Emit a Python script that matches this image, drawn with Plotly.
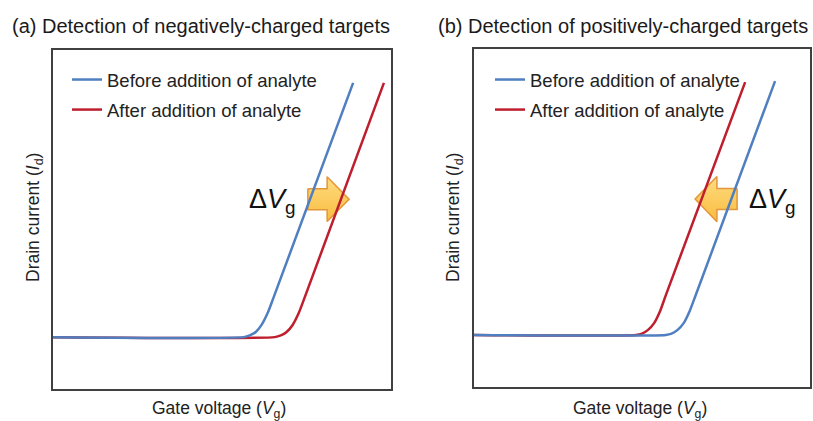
import plotly.graph_objects as go

# ---------------- data (arbitrary units) ----------------
series_names = ["Before addition of analyte", "After addition of analyte"]
panel_titles = ["(a) Detection of negatively-charged targets",
                "(b) Detection of positively-charged targets"]
x_label = "Gate voltage (<i>V</i><sub>g</sub>)"
y_label = "Drain current (<i>I</i><sub>d</sub>)"
shift_label = "Δ<i>V</i><sub>g</sub>"

# panel (a)
a_before_vg = [0.0, 5.64, 5.82, 6.00, 6.17, 6.35, 6.53, 8.88]
a_before_id = [1.53, 1.53, 1.58, 1.68, 1.89, 2.24, 2.71, 9.03]
a_after_vg = [0.0, 6.56, 6.74, 6.91, 7.09, 7.27, 7.45, 9.79]
a_after_id = [1.53, 1.53, 1.58, 1.68, 1.89, 2.24, 2.71, 9.03]
# panel (b)
b_before_vg = [0.0, 5.71, 5.88, 6.06, 6.24, 6.42, 6.60, 8.96]
b_before_id = [1.54, 1.54, 1.58, 1.69, 1.89, 2.25, 2.72, 9.05]
b_after_vg = [0.0, 4.82, 5.00, 5.18, 5.36, 5.54, 5.71, 8.07]
b_after_id = [1.54, 1.54, 1.58, 1.69, 1.89, 2.25, 2.72, 9.02]

# block arrows (tail, head base, tip, centre, shaft half-height, head half-height)
a_arrow = dict(tail=7.54, base=8.11, tip=8.76, yc=5.60, sh=0.31, hh=0.66)
b_arrow = dict(tail=7.83, base=7.23, tip=6.58, yc=5.56, sh=0.31, hh=0.67)

BLUE = "#4F7FC0"
RED = "#BE1E2D"
FONT = "Arial, Liberation Sans, sans-serif"

fig = go.Figure()


def arrow_xy(a):
    xs = [a["tail"], a["base"], a["base"], a["tip"], a["base"], a["base"], a["tail"], a["tail"]]
    ys = [a["yc"] + a["sh"], a["yc"] + a["sh"], a["yc"] + a["hh"], a["yc"],
          a["yc"] - a["hh"], a["yc"] - a["sh"], a["yc"] - a["sh"], a["yc"] + a["sh"]]
    return xs, ys


for xa, ya, arr in [("x", "y", a_arrow), ("x2", "y2", b_arrow)]:
    xs, ys = arrow_xy(arr)
    fig.add_trace(go.Scatter(x=xs, y=ys, xaxis=xa, yaxis=ya, mode="lines",
                             fill="toself",
                             fillgradient=dict(type="vertical",
                                               colorscale=[[0, "#F8BC40"], [1, "#FFDC80"]]),
                             line=dict(color="#E3963A", width=1.5),
                             showlegend=False, hoverinfo="skip"))

panels = [
    ("x", "y", "legend", a_before_vg, a_before_id, a_after_vg, a_after_id),
    ("x2", "y2", "legend2", b_before_vg, b_before_id, b_after_vg, b_after_id),
]
for i, (xa, ya, lg, bx, by, ax_, ay) in enumerate(panels):
    fig.add_trace(go.Scatter(x=ax_, y=ay, xaxis=xa, yaxis=ya, mode="lines",
                             name=series_names[1], legend=lg, legendrank=2,
                             legendgroup=f"after{i}",
                             line=dict(color=RED, width=2.5, shape="spline", smoothing=0.6)))
    fig.add_trace(go.Scatter(x=bx, y=by, xaxis=xa, yaxis=ya, mode="lines",
                             name=series_names[0], legend=lg, legendrank=1,
                             legendgroup=f"before{i}",
                             line=dict(color=BLUE, width=2.5, shape="spline", smoothing=0.6)))

axis_common = dict(range=[0, 10], showgrid=False, zeroline=False, showticklabels=False,
                   ticks="", showline=True, mirror=True, linecolor="#404040", linewidth=1.6,
                   fixedrange=True)

W, H = 813, 421
legend_common = dict(xanchor="left", yanchor="top", bgcolor="rgba(0,0,0,0)",
                     font=dict(size=18.5, color="#222222"), tracegroupgap=3,
                     itemwidth=30, traceorder="grouped")
fig.update_layout(
    width=W, height=H, margin=dict(l=0, r=0, t=0, b=0),
    paper_bgcolor="white", plot_bgcolor="white",
    font=dict(family=FONT, color="#222222"),
    xaxis=dict(domain=[53 / W, 391 / W], anchor="y", **axis_common),
    yaxis=dict(domain=[(H - 389) / H, (H - 50) / H], anchor="x", **axis_common),
    xaxis2=dict(domain=[474 / W, 810 / W], anchor="y2", **axis_common),
    yaxis2=dict(domain=[(H - 387) / H, (H - 49) / H], anchor="x2", **axis_common),
    legend=dict(x=67 / W, y=(H - 61) / H, **legend_common),
    legend2=dict(x=490 / W, y=(H - 61) / H, **legend_common),
    showlegend=True,
)

ann = []
# panel titles
ann.append(dict(text=panel_titles[0], x=10 / W, y=(H - 26) / H, xanchor="left", yanchor="middle"))
ann.append(dict(text=panel_titles[1], x=436 / W, y=(H - 26) / H, xanchor="left", yanchor="middle"))
for a in ann:
    a.update(xref="paper", yref="paper", showarrow=False, font=dict(size=20, color="#1a1a1a"))
# axis labels
for cx in [219, 640]:
    ann.append(dict(text=x_label, x=cx / W, y=(H - 409) / H, xref="paper", yref="paper",
                    xanchor="center", yanchor="middle", showarrow=False,
                    font=dict(size=17.5, color="#222222")))
for cx in [35, 455]:
    ann.append(dict(text=y_label, x=cx / W, y=(H - 218) / H, xref="paper", yref="paper",
                    xanchor="center", yanchor="middle", textangle=-90, showarrow=False,
                    font=dict(size=17.5, color="#222222")))
# delta Vg labels
ann.append(dict(text=shift_label, x=272 / W, y=(H - 201) / H, xref="paper", yref="paper",
                xanchor="center", yanchor="middle", showarrow=False,
                font=dict(size=27, color="#111111")))
ann.append(dict(text=shift_label, x=772 / W, y=(H - 201) / H, xref="paper", yref="paper",
                xanchor="center", yanchor="middle", showarrow=False,
                font=dict(size=27, color="#111111")))
fig.update_layout(annotations=ann)

fig.write_html("out.html")
